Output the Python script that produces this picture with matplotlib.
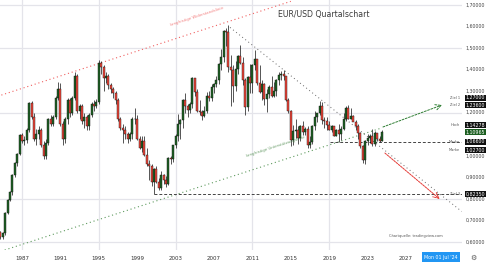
import numpy as np
import matplotlib
matplotlib.use('Agg')
import matplotlib.pyplot as plt

# quarterly EUR/USD candles, first candle = 1984 Q4 (open of first bar below)
first_open = 0.645
closes = [0.625,
          0.64, 0.735, 0.795, 0.83,      # 1985
          0.91, 0.965, 1.01, 1.095,      # 1986
          1.07, 1.075, 1.12, 1.245,      # 1987
          1.18, 1.08, 1.10, 1.12,        # 1988
          1.05, 1.00, 1.06, 1.17,        # 1989
          1.15, 1.18, 1.27, 1.31,        # 1990
          1.15, 1.08, 1.17, 1.26,        # 1991
          1.20, 1.27, 1.37, 1.21,        # 1992
          1.23, 1.16, 1.18, 1.14,        # 1993
          1.19, 1.24, 1.23, 1.25,        # 1994
          1.43, 1.41, 1.36, 1.37,        # 1995
          1.33, 1.31, 1.29, 1.26,        # 1996
          1.17, 1.13, 1.12, 1.10,        # 1997
          1.08, 1.10, 1.17, 1.17,        # 1998
          1.08, 1.035, 1.07, 1.005,      # 1999
          0.96, 0.955, 0.88, 0.94,       # 2000
          0.88, 0.85, 0.91, 0.89,        # 2001
          0.87, 0.99, 0.985, 1.05,       # 2002
          1.09, 1.15, 1.165, 1.26,       # 2003
          1.23, 1.215, 1.24, 1.36,       # 2004
          1.295, 1.21, 1.205, 1.185,     # 2005
          1.21, 1.28, 1.27, 1.32,        # 2006
          1.335, 1.35, 1.425, 1.46,      # 2007
          1.58, 1.575, 1.41, 1.40,       # 2008
          1.325, 1.405, 1.465, 1.43,     # 2009
          1.35, 1.225, 1.365, 1.34,      # 2010
          1.42, 1.45, 1.34, 1.295,       # 2011
          1.335, 1.265, 1.285, 1.32,     # 2012
          1.28, 1.30, 1.35, 1.375,       # 2013
          1.38, 1.37, 1.26, 1.21,        # 2014
          1.075, 1.115, 1.12, 1.085,     # 2015
          1.14, 1.11, 1.125, 1.05,       # 2016
          1.065, 1.14, 1.18, 1.20,       # 2017
          1.23, 1.168, 1.16, 1.145,      # 2018
          1.12, 1.137, 1.09, 1.12,       # 2019
          1.10, 1.123, 1.172, 1.222,     # 2020
          1.173, 1.186, 1.158, 1.137,    # 2021
          1.107, 1.048, 0.98, 1.07,      # 2022
          1.084, 1.091, 1.057, 1.104,    # 2023
          1.079, 1.071, 1.10965]         # 2024

highs = [0.65,
         0.645, 0.74, 0.80, 0.835,
         0.915, 0.97, 1.015, 1.10,
         1.105, 1.09, 1.13, 1.25,
         1.255, 1.20, 1.125, 1.14,
         1.13, 1.07, 1.08, 1.175,
         1.19, 1.19, 1.28, 1.345,
         1.34, 1.16, 1.18, 1.27,
         1.27, 1.28, 1.39, 1.38,
         1.24, 1.24, 1.20, 1.19,
         1.20, 1.25, 1.26, 1.265,
         1.445, 1.44, 1.42, 1.39,
         1.38, 1.34, 1.32, 1.30,
         1.27, 1.18, 1.15, 1.14,
         1.11, 1.11, 1.18, 1.22,
         1.19, 1.09, 1.09, 1.09,
         1.035, 0.98, 0.96, 0.945,
         0.955, 0.895, 0.93, 0.915,
         0.905, 0.995, 1.0, 1.05,
         1.10, 1.195, 1.17, 1.265,
         1.29, 1.24, 1.25, 1.365,
         1.35, 1.31, 1.26, 1.215,
         1.23, 1.295, 1.30, 1.335,
         1.34, 1.37, 1.43, 1.495,
         1.585, 1.595, 1.605, 1.47,
         1.42, 1.44, 1.47, 1.515,
         1.46, 1.36, 1.37, 1.425,
         1.425, 1.49, 1.45, 1.42,
         1.35, 1.34, 1.31, 1.33,
         1.37, 1.345, 1.355, 1.39,
         1.395, 1.40, 1.37, 1.27,
         1.215, 1.145, 1.17, 1.14,
         1.145, 1.16, 1.135, 1.14,
         1.09, 1.145, 1.21, 1.195,
         1.255, 1.25, 1.18, 1.18,
         1.16, 1.145, 1.14, 1.125,
         1.15, 1.14, 1.20, 1.23,
         1.235, 1.22, 1.19, 1.165,
         1.15, 1.11, 1.05, 1.075,
         1.10, 1.10, 1.125, 1.115,
         1.105, 1.09, 1.12]

lows = [0.615,
        0.615, 0.635, 0.73, 0.79,
        0.82, 0.90, 0.955, 1.005,
        1.06, 1.05, 1.06, 1.11,
        1.17, 1.07, 1.05, 1.08,
        1.04, 0.985, 0.985, 1.05,
        1.14, 1.14, 1.17, 1.26,
        1.14, 1.05, 1.06, 1.15,
        1.18, 1.19, 1.26, 1.20,
        1.17, 1.15, 1.13, 1.12,
        1.12, 1.18, 1.21, 1.22,
        1.24, 1.38, 1.30, 1.34,
        1.31, 1.29, 1.27, 1.24,
        1.16, 1.12, 1.06, 1.08,
        1.06, 1.07, 1.08, 1.15,
        1.075, 1.03, 1.02, 1.0,
        0.955, 0.89, 0.86, 0.8235,
        0.875, 0.84, 0.84, 0.87,
        0.855, 0.865, 0.96, 0.97,
        1.035, 1.07, 1.08, 1.13,
        1.20, 1.18, 1.20, 1.22,
        1.28, 1.205, 1.19, 1.165,
        1.18, 1.20, 1.255, 1.255,
        1.29, 1.32, 1.335, 1.40,
        1.435, 1.51, 1.39, 1.23,
        1.25, 1.30, 1.38, 1.425,
        1.33, 1.19, 1.21, 1.29,
        1.29, 1.40, 1.33, 1.29,
        1.26, 1.235, 1.205, 1.27,
        1.275, 1.275, 1.28, 1.33,
        1.35, 1.35, 1.255, 1.20,
        1.045, 1.05, 1.085, 1.055,
        1.07, 1.095, 1.095, 1.035,
        1.035, 1.055, 1.12, 1.155,
        1.19, 1.15, 1.13, 1.12,
        1.12, 1.11, 1.09, 1.09,
        1.065, 1.075, 1.12, 1.16,
        1.17, 1.17, 1.16, 1.12,
        1.08, 1.035, 0.965, 0.96,
        1.05, 1.06, 1.045, 1.045,
        1.07, 1.065, 1.07]

# drawn lines (time in years, price)
resistance_line = [(1984.85, 1.282), (2015.0, 1.717)]
support_line = [(1985.2, 0.563), (2024.5, 1.130)]
downtrend_line = [(2008.67, 1.596), (2032.8, 0.742)]
support_level = 0.8235
mid_level = 1.064
up_arrow = [(2024.6, 1.134), (2030.75, 1.236)]
down_arrow = [(2024.8, 1.013), (2030.5, 0.800)]

year_ticks = [1987, 1991, 1995, 1999, 2003, 2007, 2011, 2015, 2019, 2023, 2027]
grid_years = [1987, 1995, 2003, 2011, 2019]
grid_prices = [1.7, 1.5, 1.2, 0.8, 0.6]
# 1,10000 sits behind the current price box, so it is not listed
axis_prices = [1.7, 1.6, 1.5, 1.4, 1.3, 1.2, 1.0, 0.9, 0.8, 0.7, 0.6]
boxed_prices = [1.270, 1.236, 1.14278, 1.066, 1.027, 0.8235]
current_price = 1.10965

fig = plt.figure(figsize=(4.86, 2.63), dpi=100)
ax = fig.add_axes([0, 13 / 263, 462 / 486, 250 / 263])
ax.set_xlim(1984.71, 2032.83)
ax.set_ylim(0.5631, 1.7232)
for s in ax.spines.values():
    s.set_visible(False)
ax.set_yticks([])
ax.set_xticks(year_ticks)
ax.set_xticklabels([str(y) for y in year_ticks])
ax.tick_params(axis='x', length=0, pad=4, labelsize=4, colors='#333333')

for y in grid_years:
    ax.axvline(y, color='#e4e4ea', lw=0.9, zorder=0)
for p in grid_prices:
    ax.axhline(p, color='#e4e4ea', lw=0.9, zorder=0)

# candles
x = 1984.75 + 0.25 * np.arange(len(closes))
c = np.array(closes)
o = np.concatenate([[first_open], c[:-1]])
up = c >= o
colors = np.where(up, '#1e6424', '#f4473a')
ax.vlines(x, lows, highs, color='#111111', lw=0.5, zorder=3)
ax.bar(x, np.maximum(np.abs(c - o), 0.003), bottom=np.minimum(o, c), width=0.2,
       color=colors, edgecolor='#111111', linewidth=0.3, zorder=4)

# trend lines
(x0, y0), (x1, y1) = resistance_line
ax.plot([x0, x1], [y0, y1], color='#f06060', lw=0.8, ls=(0, (1, 2.5)), zorder=2)
(x0, y0), (x1, y1) = support_line
ax.plot([x0, x1], [y0, y1], color='#5e9a5e', lw=0.8, ls=(0, (1, 2.5)), zorder=2)
(x0, y0), (x1, y1) = downtrend_line
ax.plot([x0, x1], [y0, y1], color='#666666', lw=0.7, ls=(0, (1, 3)), zorder=2)
ax.plot([2000.75, 2033], [support_level] * 2, color='#444444', lw=0.7,
        ls=(0, (3, 2)), zorder=2)
ax.plot([2019.1, 2033], [mid_level] * 2, color='#444444', lw=0.7,
        ls=(0, (3, 2)), zorder=2)
ax.annotate('', xy=up_arrow[1], xytext=up_arrow[0],
            arrowprops=dict(arrowstyle='->', color='#2e7d32', lw=0.7,
                            ls=(0, (2, 1.5)), shrinkA=0, shrinkB=0))
ax.annotate('', xy=down_arrow[1], xytext=down_arrow[0],
            arrowprops=dict(arrowstyle='->', color='#e53935', lw=0.7,
                            ls=(0, (2, 1)), shrinkA=0, shrinkB=0))

ax.text(2005.2, 1.645, 'langfristige Widerstandslinie', color='#f06060',
        fontsize=2.8, rotation=18, ha='center', va='center', alpha=0.8)
ax.text(2013.4, 1.045, 'langfristige Unterstützungslinie', color='#4d8a4d',
        fontsize=2.8, rotation=18, ha='center', va='center', alpha=0.85)
ax.text(2028.0, 0.628, 'Chartquelle: tradingview.com', color='#555555',
        fontsize=2.6, ha='center', va='center')

# right price scale
tr = ax.get_yaxis_transform()
for p in axis_prices:
    ax.text(1.0075, p, f'{p:.5f}'.replace('.', ','), transform=tr, fontsize=3.4,
            color='#444444', ha='left', va='center', clip_on=False)
for p in boxed_prices:
    ax.text(1.0075, p, f'{p:.5f}'.replace('.', ','), transform=tr, fontsize=3.4,
            color='white', ha='left', va='center', clip_on=False, zorder=6,
            bbox=dict(boxstyle='square,pad=0.12', fc='#111111', ec='none'))
ax.text(1.0075, current_price, f'{current_price:.5f}'.replace('.', ','),
        transform=tr, fontsize=3.4, color='white', ha='left', va='center',
        clip_on=False, zorder=6,
        bbox=dict(boxstyle='square,pad=0.12', fc='#1b5e20', ec='none'))
side_notes = [(1.270, 'Ziel 1'), (1.236, 'Ziel 2'), (1.14278, 'Hoch'),
              (1.066, 'Marke'), (1.027, 'Marke'), (0.8235, 'Ziel 3')]
for p, t in side_notes:
    ax.text(0.995, p, t, transform=tr, fontsize=2.6, color='#555555',
            ha='right', va='center', clip_on=False)

fig.text(324 / 486, 1 - 15 / 263, 'EUR/USD Quartalschart', fontsize=5.6,
         color='#3a3a3a', ha='center', va='center')
fig.text(441 / 486, 1 - 257 / 263, "Mon 01 Jul '24", fontsize=3.4, color='white',
         ha='center', va='center',
         bbox=dict(boxstyle='square,pad=0.5', fc='#2196f3', ec='none'))
fig.text(473 / 486, 1 - 258 / 263, '⚙', fontsize=5, color='#555555',
         ha='center', va='center')

fig.savefig('out.png', dpi=100)
